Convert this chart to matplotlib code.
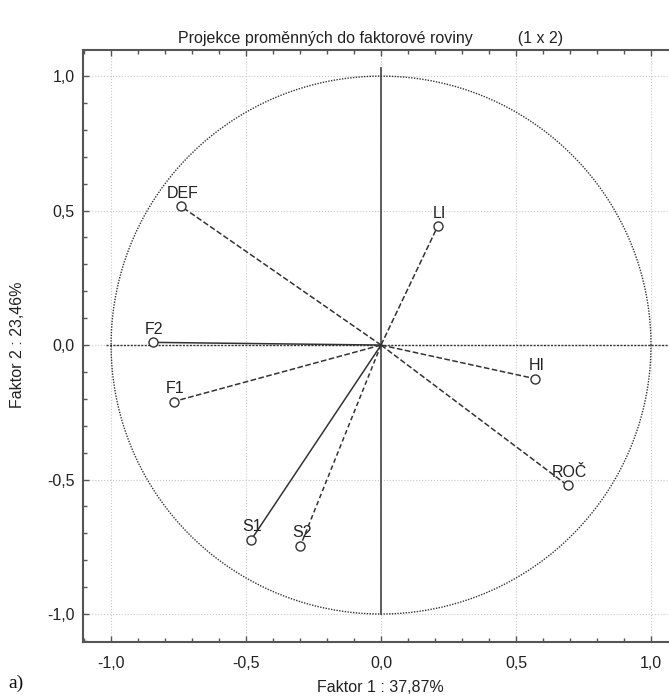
import numpy as np
import matplotlib.pyplot as plt
from matplotlib.ticker import MultipleLocator, FuncFormatter

plt.rcParams['font.family'] = ['Liberation Sans', 'DejaVu Sans']

# zatezeni promennych (faktor 1, faktor 2)
names = ['DEF', 'F2', 'F1', 'S1', 'S2', 'LI', 'HI', 'ROČ']
f1 = [-0.741, -0.846, -0.768, -0.481, -0.299, 0.210, 0.570, 0.691]
f2 = [0.516, 0.010, -0.210, -0.724, -0.747, 0.442, -0.125, -0.522]
styles = ['--', '-', '--', '-', (0, (3, 2)), '--', '--', '--']

dark = '#333333'
fs = 11.5

fig = plt.figure(figsize=(6.69, 6.98), dpi=100)
ax = fig.add_axes([83 / 669, 1 - 642 / 698, 595 / 669, 592 / 698])

ax.set_xlim(-1.104, 1.10)
ax.set_ylim(-1.104, 1.097)

# kruh jednotkovy
t = np.linspace(0, 2 * np.pi, 400)
ax.plot(np.cos(t), np.sin(t), ls=(0, (1, 1)), color=dark, lw=1.0)

# osy
ax.plot([0, 0], [-1.0, 1.03], color='#444444', lw=1.2)
ax.plot([-1.02, 1.1], [0, 0], ls=(0, (1.5, 1)), color=dark, lw=1.0)

for n, x, y, s in zip(names, f1, f2, styles):
    ax.plot([0, x], [0, y], ls=s, color=dark, lw=1.1)
    ax.plot(x, y, 'o', mfc='white', mec=dark, ms=6.5, mew=1.0)
    ax.annotate(n, (x, y), xytext=(1, 4), textcoords='offset points',
                ha='center', va='bottom', fontsize=fs, color='#222222')

ax.xaxis.set_major_locator(MultipleLocator(0.5))
ax.yaxis.set_major_locator(MultipleLocator(0.5))
ax.xaxis.set_minor_locator(MultipleLocator(0.1))
ax.yaxis.set_minor_locator(MultipleLocator(0.1))
fmt = FuncFormatter(lambda v, p: f'{v:.1f}'.replace('.', ',').replace('-0,0', '0,0'))
ax.xaxis.set_major_formatter(fmt)
ax.yaxis.set_major_formatter(fmt)
ax.tick_params(which='both', direction='in', top=True, right=False,
               color='#555555', labelsize=fs, labelcolor='#222222')
ax.tick_params(which='major', length=4, width=1)
ax.tick_params(which='minor', length=3, width=1)
ax.tick_params(axis='x', which='major', pad=10)
ax.tick_params(axis='y', which='major', pad=6)

ax.grid(True, which='major', ls=':', color='#c8c8c8', lw=0.8)
ax.set_axisbelow(True)
for sp in ax.spines.values():
    sp.set_color('#555555')
    sp.set_linewidth(1.5)

fig.text(371 / 669, 1 - 39 / 698,
         'Projekce proměnných do faktorové roviny          (1 x 2)',
         ha='center', va='center', fontsize=fs, color='#222222')
fig.text(380 / 669, 1 - 688 / 698, 'Faktor 1 : 37,87%',
         ha='center', va='center', fontsize=fs, color='#222222')
fig.text(18 / 669, 1 - 345 / 698, 'Faktor 2 : 23,46%', rotation=90,
         ha='center', va='center', fontsize=fs, color='#222222')
fig.text(8 / 669, 1 - 683 / 698, 'a)', family=['Liberation Serif', 'DejaVu Serif'],
         ha='left', va='center', fontsize=14, color='#111111')

fig.savefig('out.png', dpi=100)
